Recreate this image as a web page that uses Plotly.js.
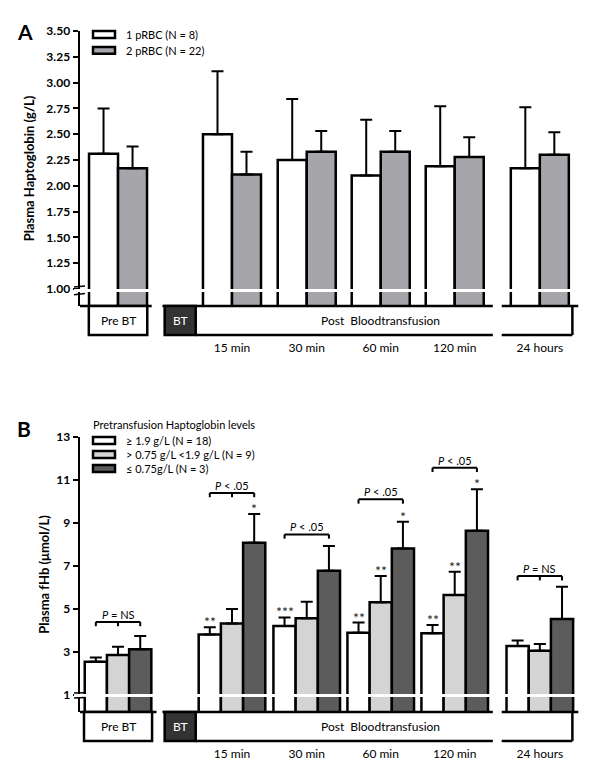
<!DOCTYPE html>
<html>
<head>
<meta charset="utf-8">
<script src="https://cdn.plot.ly/plotly-3.0.1.min.js"></script>
<style>
  body { margin: 0; background: #fff; }
  #panelA { width: 600px; height: 375px; }
  #panelB { width: 600px; height: 400px; }
</style>
</head>
<body>
<div id="panelA"></div>
<div id="panelB"></div>
<script>
// time points, "Pre BT" is written inside its box
var timepoints = ['Pre BT', '15 min', '30 min', '60 min', '120 min', '24 hours'];

// Panel A: plasma haptoglobin (g/L), mean + upper error
var hpNames = ['1 pRBC (N = 8)', '2 pRBC (N = 22)'];
var hpOne = [2.31, 2.50, 2.25, 2.10, 2.19, 2.17];
var hpOneErr = [0.44, 0.61, 0.59, 0.54, 0.58, 0.59];
var hpTwo = [2.17, 2.11, 2.33, 2.33, 2.28, 2.30];
var hpTwoErr = [0.21, 0.22, 0.20, 0.20, 0.19, 0.22];

// Panel B: plasma fHb (umol/L) by pretransfusion haptoglobin
var fhbLegendTitle = 'Pretransfusion Haptoglobin levels';
var fhbNames = ['\u2265 1.9 g/L (N = 18)', '> 0.75 g/L <1.9 g/L (N = 9)', '\u2264 0.75g/L (N = 3)'];
var fhbHigh = [2.55, 3.82, 4.21, 3.90, 3.87, 3.28];
var fhbHighErr = [0.19, 0.33, 0.40, 0.47, 0.39, 0.25];
var fhbMid = [2.86, 4.33, 4.57, 5.31, 5.65, 3.06];
var fhbMidErr = [0.39, 0.67, 0.77, 1.22, 1.08, 0.31];
var fhbLow = [3.13, 8.08, 6.78, 7.82, 8.64, 4.53];
var fhbLowErr = [0.61, 1.34, 1.15, 1.24, 1.93, 1.51];

// significance
var starsHigh = ['', '**', '***', '**', '**', ''];
var starsMid = ['', '', '', '**', '**', ''];
var starsLow = ['', '*', '', '*', '*', ''];
var pText = ['<i>P</i> = NS', '<i>P</i> < .05', '<i>P</i> < .05', '<i>P</i> < .05', '<i>P</i> < .05', '<i>P</i> = NS'];
var pLevel = [4.4, 10.4, 8.47, 10.1, 11.57, 6.53];
var pMidTick = [true, true, false, false, false, true];

// layout positions of the groups on the x axis (gaps between phases)
var slot = [0, 1.54, 2.55, 3.55, 4.55, 5.7];
var xRange = [-0.514, 6.243];

var FONT = 'Lato, "Open Sans", sans-serif';
var BLACK = '#000';

function zeros(a) { return a.map(function () { return 0; }); }

function barTrace(y, err, name, fill) {
  return {
    type: 'bar', x: slot, y: y, name: name,
    marker: { color: fill, line: { color: BLACK, width: 2.5 } },
    error_y: { type: 'data', array: err, arrayminus: zeros(err), symmetric: false,
      color: BLACK, thickness: 2, width: 6 },
    showlegend: false, hoverinfo: 'skip'
  };
}

// axis line under the bars, the Pre BT / BT / Post boxes
function baseShapes(halfPre, boxH) {
  var line = { color: BLACK, width: 2.5 };
  var gap2 = (slot[4] + slot[5]) / 2;
  var s = [];
  s.push({ type: 'line', xref: 'x', yref: 'paper', x0: xRange[0], x1: slot[0] + halfPre + 0.06, y0: 0, y1: 0, line: line });
  s.push({ type: 'line', xref: 'x', yref: 'paper', x0: 0.6, x1: gap2 - 0.06, y0: 0, y1: 0, line: line });
  s.push({ type: 'line', xref: 'x', yref: 'paper', x0: gap2 + 0.06, x1: 6.22, y0: 0, y1: 0, line: line });
  s.push({ type: 'rect', xref: 'x', yref: 'paper', x0: slot[0] - halfPre, x1: slot[0] + halfPre, y0: -boxH, y1: 0, line: line, fillcolor: '#fff' });
  s.push({ type: 'rect', xref: 'x', yref: 'paper', x0: 0.63, x1: 1.05, y0: -boxH, y1: 0, line: line, fillcolor: '#333' });
  s.push({ type: 'line', xref: 'x', yref: 'paper', x0: 1.05, x1: gap2 - 0.06, y0: -boxH, y1: -boxH, line: line });
  s.push({ type: 'line', xref: 'x', yref: 'paper', x0: gap2 + 0.06, x1: 6.14, y0: -boxH, y1: -boxH, line: line });
  s.push({ type: 'line', xref: 'x', yref: 'paper', x0: 6.14, x1: 6.14, y0: -boxH, y1: 0, line: line });
  return s;
}

function baseLabels(boxH) {
  var f = { family: FONT, size: 12, color: BLACK };
  return [
    { xref: 'x', yref: 'paper', x: slot[0], y: -boxH / 2, yanchor: 'middle', text: timepoints[0], showarrow: false, font: f },
    { xref: 'x', yref: 'paper', x: 0.84, y: -boxH / 2, yanchor: 'middle', text: 'BT', showarrow: false, font: { family: FONT, size: 12, color: '#fff' } },
    { xref: 'x', yref: 'paper', x: slot[3], y: -boxH / 2, yanchor: 'middle', text: 'Post&nbsp;&nbsp;Bloodtransfusion', showarrow: false, font: f }
  ];
}

// white band + break marks at the bottom tick
function breakShapes(b0, b1, m0, m1) {
  return [
    { type: 'rect', xref: 'paper', yref: 'y', x0: -0.012, x1: 1, y0: b0, y1: b1, line: { width: 0 }, fillcolor: '#fff', layer: 'above' },
    { type: 'line', xref: 'paper', yref: 'y', x0: -0.012, x1: 0.01, y0: m1, y1: m1 + (m1 - b1) * 0.4, line: { color: BLACK, width: 1.5 }, layer: 'above' },
    { type: 'line', xref: 'paper', yref: 'y', x0: -0.012, x1: 0.01, y0: m0, y1: m0 + (b0 - m0) * 0.4, line: { color: BLACK, width: 1.5 }, layer: 'above' }
  ];
}

function legendItems(top, rowH, names, fills) {
  var shapes = [], ann = [];
  for (var i = 0; i < names.length; i++) {
    var y1 = top - i * rowH;
    shapes.push({ type: 'rect', xref: 'paper', yref: 'paper', x0: 0.026, x1: 0.07, y0: y1 - 0.025, y1: y1,
      line: { color: BLACK, width: 2.5 }, fillcolor: fills[i] });
    ann.push({ xref: 'paper', yref: 'paper', x: 0.088, y: y1 - 0.0125, xanchor: 'left', yanchor: 'middle',
      text: names[i], showarrow: false, font: { family: FONT, size: 11, color: BLACK } });
  }
  return { shapes: shapes, ann: ann };
}

function xAxis() {
  return {
    range: xRange, showline: false, zeroline: false, showgrid: false, ticks: '',
    tickvals: slot.slice(1), ticktext: timepoints.slice(1), ticklabelstandoff: 33,
    tickfont: { family: FONT, size: 12, color: BLACK }, fixedrange: true
  };
}

function yAxis(title, range, tick0, dtick, fmt, standoff) {
  return {
    range: range, tick0: tick0, dtick: dtick, tickformat: fmt,
    showline: true, linewidth: 2.5, linecolor: BLACK, mirror: false,
    ticks: 'outside', ticklen: 5, tickwidth: 2, tickcolor: BLACK,
    showgrid: false, zeroline: false, fixedrange: true,
    tickfont: { family: FONT, size: 12, color: BLACK, weight: 'bold' },
    title: { text: title, standoff: standoff, font: { family: FONT, size: 13, color: BLACK, weight: 'bold' } }
  };
}

// ---------- Panel A ----------
var boxA = 29 / 275;
var legA = legendItems(1.0, 0.058, hpNames, ['#fff', '#a5a5aa']);
var layoutA = {
  width: 600, height: 375,
  margin: { l: 80, r: 20, t: 31, b: 69 },
  paper_bgcolor: '#fff', plot_bgcolor: '#fff',
  barmode: 'group', bargap: 0.216, bargroupgap: 0,
  xaxis: xAxis(),
  yaxis: yAxis('Plasma Haptoglobin (g/L)', [0.835, 3.5], 1, 0.25, '.2f', 9),
  shapes: baseShapes(0.395, boxA).concat(breakShapes(0.97, 1.0, 0.945, 1.02), legA.shapes),
  annotations: baseLabels(boxA).concat(legA.ann, [
    { xref: 'paper', yref: 'paper', x: -0.13, y: 0.998, xanchor: 'left', yanchor: 'middle', text: '<b>A</b>',
      showarrow: false, font: { family: FONT, size: 21, color: BLACK } }
  ])
};

Plotly.newPlot('panelA', [
  barTrace(hpOne, hpOneErr, hpNames[0], '#fff'),
  barTrace(hpTwo, hpTwoErr, hpNames[1], '#a5a5aa')
], layoutA, { staticPlot: true });

// ---------- Panel B ----------
var boxB = 29 / 275;
var barW = 0.30;
var fillsB = ['#fff', '#d4d4d4', '#5c5c5c'];
var legB = legendItems(1.0, 0.051, fhbNames, fillsB);

var sigShapes = [], sigAnn = [];
var seriesB = [[fhbHigh, fhbHighErr, starsHigh], [fhbMid, fhbMidErr, starsMid], [fhbLow, fhbLowErr, starsLow]];
for (var i = 0; i < slot.length; i++) {
  var xl = slot[i] - barW, xr = slot[i] + barW, yb = pLevel[i], tick = 0.2;
  var ln = { color: BLACK, width: 2 };
  sigShapes.push({ type: 'line', xref: 'x', yref: 'y', x0: xl, x1: xr, y0: yb, y1: yb, line: ln });
  sigShapes.push({ type: 'line', xref: 'x', yref: 'y', x0: xl, x1: xl, y0: yb, y1: yb - tick, line: ln });
  sigShapes.push({ type: 'line', xref: 'x', yref: 'y', x0: xr, x1: xr, y0: yb, y1: yb - tick, line: ln });
  if (pMidTick[i]) {
    sigShapes.push({ type: 'line', xref: 'x', yref: 'y', x0: slot[i], x1: slot[i], y0: yb, y1: yb - tick, line: ln });
  }
  sigAnn.push({ xref: 'x', yref: 'y', x: slot[i], y: yb, yanchor: 'bottom', yshift: -1, text: pText[i],
    showarrow: false, font: { family: FONT, size: 11, color: BLACK } });
  for (var k = 0; k < 3; k++) {
    var st = seriesB[k][2][i];
    if (!st) continue;
    sigAnn.push({ xref: 'x', yref: 'y', x: slot[i] + (k - 1) * barW, y: seriesB[k][0][i] + seriesB[k][1][i],
      yanchor: 'bottom', yshift: -5, text: st, showarrow: false, font: { family: FONT, size: 14, color: '#222' } });
  }
}

var layoutB = {
  width: 600, height: 400,
  margin: { l: 80, r: 20, t: 62, b: 63 },
  paper_bgcolor: '#fff', plot_bgcolor: '#fff',
  barmode: 'group', bargap: 0.1, bargroupgap: 0,
  xaxis: xAxis(),
  yaxis: yAxis('Plasma fHb (\u03bcmol/L)', [0.21, 13], 1, 2, 'd', 4),
  shapes: baseShapes(0.46, boxB).concat(breakShapes(0.91, 1.05, 0.86, 1.09), legB.shapes, sigShapes),
  annotations: baseLabels(boxB).concat(legB.ann, sigAnn, [
    { xref: 'paper', yref: 'paper', x: 0.022, y: 1.044, xanchor: 'left', yanchor: 'middle', text: fhbLegendTitle,
      showarrow: false, font: { family: FONT, size: 11, color: BLACK } },
    { xref: 'paper', yref: 'paper', x: -0.13, y: 1.031, xanchor: 'left', yanchor: 'middle', text: '<b>B</b>',
      showarrow: false, font: { family: FONT, size: 21, color: BLACK } }
  ])
};

Plotly.newPlot('panelB', [
  barTrace(fhbHigh, fhbHighErr, fhbNames[0], fillsB[0]),
  barTrace(fhbMid, fhbMidErr, fhbNames[1], fillsB[1]),
  barTrace(fhbLow, fhbLowErr, fhbNames[2], fillsB[2])
], layoutB, { staticPlot: true });
</script>
</body>
</html>
